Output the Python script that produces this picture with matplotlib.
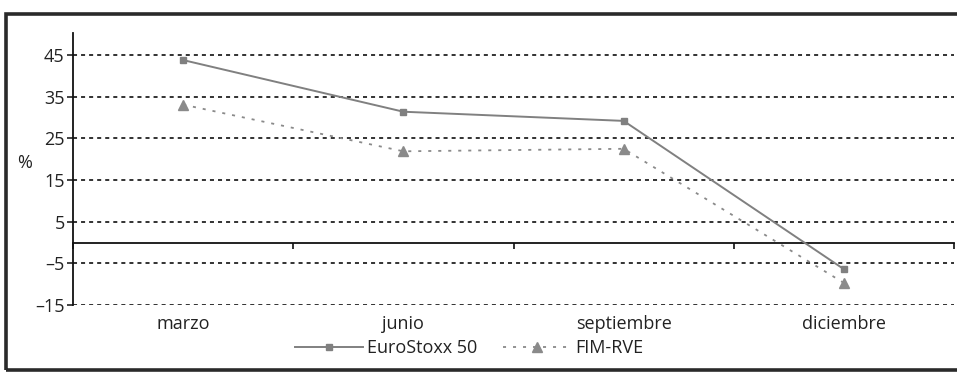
import numpy as np
import matplotlib
matplotlib.use("Agg")
import matplotlib.pyplot as plt
from matplotlib.patches import Rectangle

# datos
meses = ["marzo", "junio", "septiembre", "diciembre"]
eurostoxx = [43.8, 31.4, 29.2, -6.4]
fim_rve = [33.1, 21.9, 22.5, -9.7]
y_ticks = [-15, -5, 5, 15, 25, 35, 45]
y_labels = ["\u201315", "\u20135", "5", "15", "25", "35", "45"]

plt.rcParams['font.family'] = ['Open Sans', 'DejaVu Sans']
plt.rcParams['lines.scale_dashes'] = False
fs = 13

fig = plt.figure(figsize=(9.57, 3.72), dpi=100)
ax = fig.add_axes([73 / 957, 67 / 372, 881 / 957, 272 / 372])

x = np.arange(len(meses))
ymin, ymax = -15, 50.3

# rejilla punteada
for yv in y_ticks:
    ax.axhline(yv, color='#222222', lw=1.3, ls=(0, (2.9, 2.9)), zorder=1)

ax.plot(x, eurostoxx, color='#808080', lw=1.4, marker='s', ms=4.5,
        label='EuroStoxx 50', zorder=3)
ax.plot(x, fim_rve, color='#8a8a8a', lw=1.3, ls=(0, (2.2, 5.0)), marker='^',
        ms=6.5, label='FIM-RVE', zorder=3)

ax.set_xlim(-0.5, len(meses) - 0.5)
ax.set_ylim(ymin, ymax)

# eje y
ax.set_yticks(y_ticks)
ax.set_yticklabels(y_labels)
ax.tick_params(axis='y', direction='out', length=4, width=1.2, pad=2,
               labelsize=fs, colors='#222222')
for s in ['top', 'right', 'bottom']:
    ax.spines[s].set_visible(False)
ax.spines['left'].set_linewidth(1.3)
ax.spines['left'].set_color('#111111')

# etiquetas de categoria abajo
ax.set_xticks(x)
ax.set_xticklabels(meses)
ax.tick_params(axis='x', length=0, pad=7, labelsize=fs, colors='#222222')

# linea de cero con marcas entre categorias
zero = ax.secondary_xaxis((0 - ymin) / (ymax - ymin))
zero.spines['bottom'].set_linewidth(1.3)
zero.spines['bottom'].set_color('#111111')
zero.set_xticks(np.arange(len(meses) + 1) - 0.5)
zero.set_xticklabels([])
zero.tick_params(direction='out', length=4, width=1.2, color='#111111')

ax.set_ylabel('%', rotation=0, fontsize=fs, color='#222222')
ax.yaxis.set_label_coords(-0.055, 0.49)

fig.legend(loc='center', bbox_to_anchor=(0.49, 0.065), ncol=2, frameon=False,
           fontsize=fs, handlelength=3.8, columnspacing=1.4, handletextpad=0.2,
           labelcolor='#222222')

# marco exterior
fig.patches.append(Rectangle((5.5 / 957, 2 / 372), 1.05, 356.5 / 372,
                             transform=fig.transFigure, fill=False,
                             edgecolor='#2a2a2a', lw=2.6, clip_on=False))

fig.savefig('out.png', dpi=100)
